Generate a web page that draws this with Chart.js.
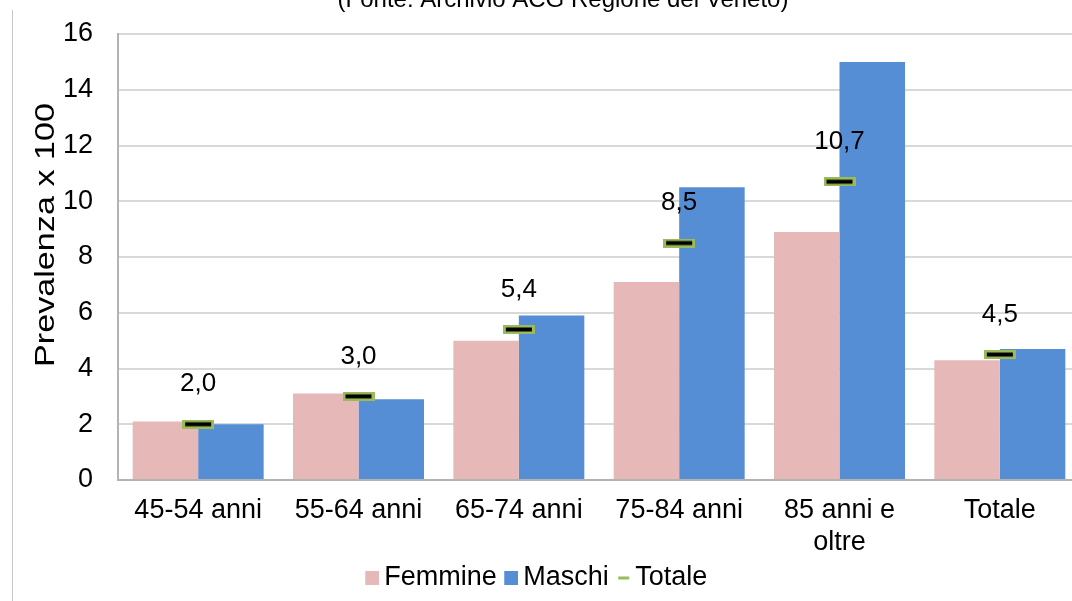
<!DOCTYPE html>
<html>
<head>
<meta charset="utf-8">
<script src="https://cdn.jsdelivr.net/npm/chart.js@4.4.1/dist/chart.umd.min.js"></script>
<style>
  html, body { margin: 0; padding: 0; background: #ffffff; overflow: hidden; width: 1072px; height: 601px; }
  #wrap { position: absolute; left: -10px; top: 0; width: 1090px; height: 601px; }
</style>
</head>
<body>
<div id="wrap"><canvas id="chart" width="1090" height="601"></canvas></div>
<script>
// Prevalenza per classe di età e sesso (x 100)
const categories = ['45-54 anni', '55-64 anni', '65-74 anni', '75-84 anni', ['85 anni e', 'oltre'], 'Totale'];
const femmine = [2.1, 3.1, 5.0, 7.1, 8.9, 4.3];
const maschi  = [2.0, 2.9, 5.9, 10.5, 15.0, 4.7];
const totale  = [2.0, 3.0, 5.4, 8.5, 10.7, 4.5];
const yTickValues = [0, 2, 4, 6, 8, 10, 12, 14, 16];
const yTitle = 'Prevalenza x 100';
const sourceNote = '(Fonte: Archivio ACG Regione del Veneto)';

const FONT = '"Liberation Sans", Arial, sans-serif';
const PINK = '#E6B9B8';
const BLUE = '#558ED5';
const GREEN = '#9BBB59';
const OFFSET_X = 10;   // canvas starts 10px left of the page edge

// Marker for the overall value: black dash with a green outline
function makeDash() {
  const c = document.createElement('canvas');
  c.width = 32; c.height = 9;
  const g = c.getContext('2d');
  g.fillStyle = GREEN;
  g.fillRect(0, 0, 32, 9);
  g.fillStyle = '#000000';
  g.fillRect(3, 2.5, 26, 4);
  return c;
}
// Legend icons: drawn at the right end of a wider transparent canvas
// so the icon sits close to its label
function makeIcon(draw) {
  const c = document.createElement('canvas');
  c.width = 25; c.height = 14;
  draw(c.getContext('2d'));
  return c;
}
const dashMarker = makeDash();
const legendIcons = [
  makeIcon(g => { g.fillStyle = PINK; g.fillRect(11, 0, 14, 14); }),
  makeIcon(g => { g.fillStyle = BLUE; g.fillRect(11, 0, 14, 14); }),
  makeIcon(g => { g.fillStyle = GREEN; g.fillRect(13, 6, 11, 3); })
];

const fmt = v => v.toFixed(1).replace('.', ',');

// Source note, frame line, axis title and value labels
const decorations = {
  id: 'decorations',
  beforeDraw(chart) {
    const ctx = chart.ctx;
    ctx.save();
    ctx.strokeStyle = '#c8c8c8';
    ctx.lineWidth = 1;
    ctx.beginPath();
    ctx.moveTo(OFFSET_X + 12.5, 10);
    ctx.lineTo(OFFSET_X + 12.5, chart.height);
    ctx.stroke();
    ctx.fillStyle = '#000000';
    ctx.font = '24px ' + FONT;
    ctx.textAlign = 'center';
    ctx.textBaseline = 'alphabetic';
    ctx.fillText(sourceNote, OFFSET_X + 563, 7);
    ctx.restore();
  },
  afterDraw(chart) {
    const ctx = chart.ctx;
    const area = chart.chartArea;
    ctx.save();
    ctx.fillStyle = '#000000';
    ctx.font = '27px ' + FONT;
    ctx.textAlign = 'center';
    ctx.textBaseline = 'middle';
    ctx.translate(OFFSET_X + 47, area.top + 201);
    ctx.rotate(-Math.PI / 2);
    ctx.scale(1.265, 1);
    ctx.fillText(yTitle, 0, 0);
    ctx.restore();
  },
  afterDatasetsDraw(chart) {
    const ctx = chart.ctx;
    const meta = chart.getDatasetMeta(2);
    ctx.save();
    ctx.fillStyle = '#000000';
    ctx.font = '26px ' + FONT;
    ctx.textAlign = 'center';
    ctx.textBaseline = 'middle';
    meta.data.forEach((pt, i) => {
      ctx.fillText(fmt(totale[i]), pt.x, pt.y - 40);
    });
    ctx.restore();
  }
};

new Chart(document.getElementById('chart'), {
  type: 'bar',
  data: {
    labels: categories,
    datasets: [
      { label: 'Femmine', data: femmine, backgroundColor: PINK, borderWidth: 0, order: 2,
        categoryPercentage: 0.817, barPercentage: 1.0 },
      { label: 'Maschi', data: maschi, backgroundColor: BLUE, borderWidth: 0, order: 2,
        categoryPercentage: 0.817, barPercentage: 1.0 },
      { label: 'Totale', type: 'line', data: totale, showLine: false, order: 0,
        pointStyle: dashMarker, pointRadius: 6, pointHoverRadius: 6,
        borderWidth: 0, pointBorderWidth: 0,
        borderColor: GREEN, backgroundColor: GREEN }
    ]
  },
  options: {
    responsive: false,
    animation: false,
    devicePixelRatio: 1,
    layout: { autoPadding: false, padding: { left: 0, right: 0, top: 34, bottom: 0 } },
    plugins: {
      title: { display: false },
      tooltip: { enabled: false },
      legend: {
        position: 'bottom',
        labels: {
          usePointStyle: true,
          pointStyleWidth: 8,
          boxHeight: 14,
          padding: 5,
          color: '#000000',
          font: { size: 27, family: FONT },
          generateLabels(chart) {
            return chart.data.datasets.map((ds, i) => ({
              text: ds.label,
              pointStyle: legendIcons[i],
              fillStyle: 'transparent',
              strokeStyle: 'transparent',
              lineWidth: 0,
              hidden: false,
              datasetIndex: i,
              fontColor: '#000000'
            }));
          }
        }
      }
    },
    scales: {
      x: {
        grid: { display: false, drawTicks: false },
        border: { display: true, color: '#b3b3b3', width: 2 },
        ticks: { color: '#000000', font: { size: 27, family: FONT }, padding: 14, maxRotation: 0, autoSkip: false },
        afterFit(scale) { scale.height = 79; }
      },
      y: {
        min: 0, max: 16,
        afterBuildTicks(scale) { scale.ticks = yTickValues.map(v => ({ value: v })); },
        // invisible tick marks keep the labels clear of the axis line
        grid: { color: '#d9d9d9', lineWidth: 2, drawTicks: true, tickLength: 25, tickColor: 'rgba(0,0,0,0)' },
        border: { display: true, color: '#b3b3b3', width: 2 },
        ticks: { color: '#000000', font: { size: 27, family: FONT }, padding: 0 },
        title: { display: false },
        afterFit(scale) { scale.width = OFFSET_X + 118; }
      }
    }
  },
  plugins: [decorations]
});
</script>
</body>
</html>
